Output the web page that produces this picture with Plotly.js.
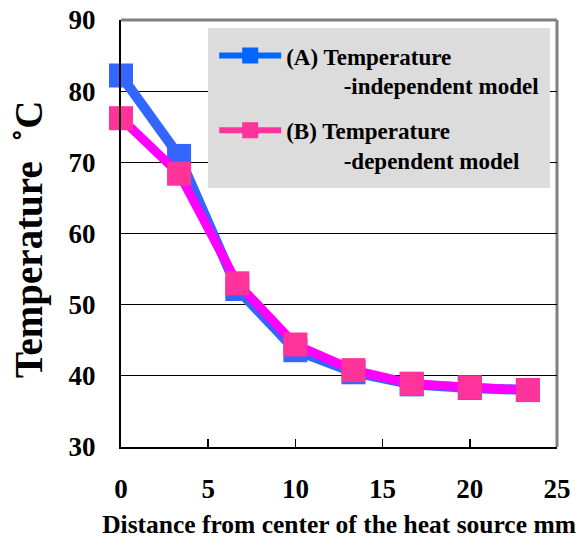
<!DOCTYPE html>
<html>
<head>
<meta charset="utf-8">
<script src="https://cdn.plot.ly/plotly-3.0.1.min.js"></script>
<style>html,body{margin:0;padding:0;background:#fff;}#chart{width:584px;height:542px;}</style>
</head>
<body>
<div id="chart"></div>
<script>
// Data
const distance = [0, 3.33, 6.67, 10, 13.33, 16.67, 20, 23.33];
const tempA = [82.2, 70.9, 52.2, 43.6, 40.5, 38.8, 38.3, 38.0];
const tempB = [76.2, 68.4, 53.0, 44.4, 40.8, 38.9, 38.4, 38.0];
const IND = "\u00a0".repeat(10);
const nameA = "<b>(A) Temperature</b><br><b>" + IND + "-independent model</b>";
const nameB = "<b>(B) Temperature</b><br><b>" + IND + "-dependent model</b>";
const xTicks = [0, 5, 10, 15, 20, 25];
const yTicks = [30, 40, 50, 60, 70, 80, 90];

const FONT = "Liberation Serif";

const traces = [
  {x: distance, y: tempA, type: 'scatter', mode: 'lines+markers', showlegend: false,
   line: {color: '#3366ff', width: 10}, marker: {symbol: 'square', size: 24, color: '#3366ff'},
   cliponaxis: false},
  {x: distance, y: tempB, type: 'scatter', mode: 'lines+markers', showlegend: false,
   line: {color: '#ff00ff', width: 9}, marker: {symbol: 'square', size: 24, color: '#ff3399'},
   cliponaxis: false},
  // legend entries
  {x: [null], y: [null], type: 'scatter', mode: 'lines+markers', name: nameA, legendgroup: 'a',
   line: {color: '#0066ff', width: 6}, marker: {symbol: 'square', size: 16, color: '#0066ff'}},
  {x: [null], y: [null], type: 'scatter', mode: 'lines+markers', name: nameB, legendgroup: 'b',
   line: {color: '#ff3399', width: 6}, marker: {symbol: 'square', size: 16, color: '#ff3399'}}
];

const layout = {
  width: 584, height: 542,
  margin: {l: 121, r: 27, t: 20, b: 95},
  paper_bgcolor: '#ffffff', plot_bgcolor: '#ffffff',
  font: {family: FONT, color: '#000000'},
  xaxis: {
    range: [0, 25], tickvals: xTicks, ticktext: xTicks.map(v => '<b>' + v + '</b>'),
    ticks: 'inside', ticklen: 8, tickwidth: 1.5, tickcolor: '#000',
    showgrid: false, zeroline: false,
    showline: true, linecolor: '#000', linewidth: 2,
    tickfont: {family: FONT, size: 27, color: '#000'},
    ticklabelstandoff: 17,
    title: {text: '<b>Distance from center of the heat source mm</b>', font: {family: FONT, size: 25.5}, standoff: 12}
  },
  yaxis: {
    range: [30, 90], tickvals: yTicks, ticktext: yTicks.map(v => '<b>' + v + '</b>'),
    ticks: '', showgrid: true, gridcolor: '#000', gridwidth: 1,
    zeroline: false, showline: true, linecolor: '#000', linewidth: 2,
    tickfont: {family: FONT, size: 27, color: '#000'},
    ticklabelstandoff: 18
  },
  legend: {
    x: 0.2, y: 0.981, xanchor: 'left', yanchor: 'top',
    bgcolor: '#dcdcdc', bordercolor: '#dcdcdc', borderwidth: 6,
    font: {family: FONT, size: 23, color: '#000'},
    itemwidth: 62, tracegroupgap: 12, valign: 'top',
    traceorder: 'grouped'
  },
  shapes: [
    {type: 'line', xref: 'paper', yref: 'paper', x0: 0, x1: 1, y0: 1, y1: 1, line: {color: '#808080', width: 3}, layer: 'below'},
    {type: 'line', xref: 'paper', yref: 'paper', x0: 1, x1: 1, y0: 0, y1: 1, line: {color: '#808080', width: 3}, layer: 'below'}
  ],
  annotations: [
    {text: '<b>Temperature  ˚C</b>', xref: 'paper', yref: 'paper', x: -0.211, y: 0.485,
     xanchor: 'center', yanchor: 'middle', textangle: -90, showarrow: false,
     font: {family: FONT, size: 39}}
  ]
};

Plotly.newPlot('chart', traces, layout, {displayModeBar: false, staticPlot: true});
</script>
</body>
</html>
